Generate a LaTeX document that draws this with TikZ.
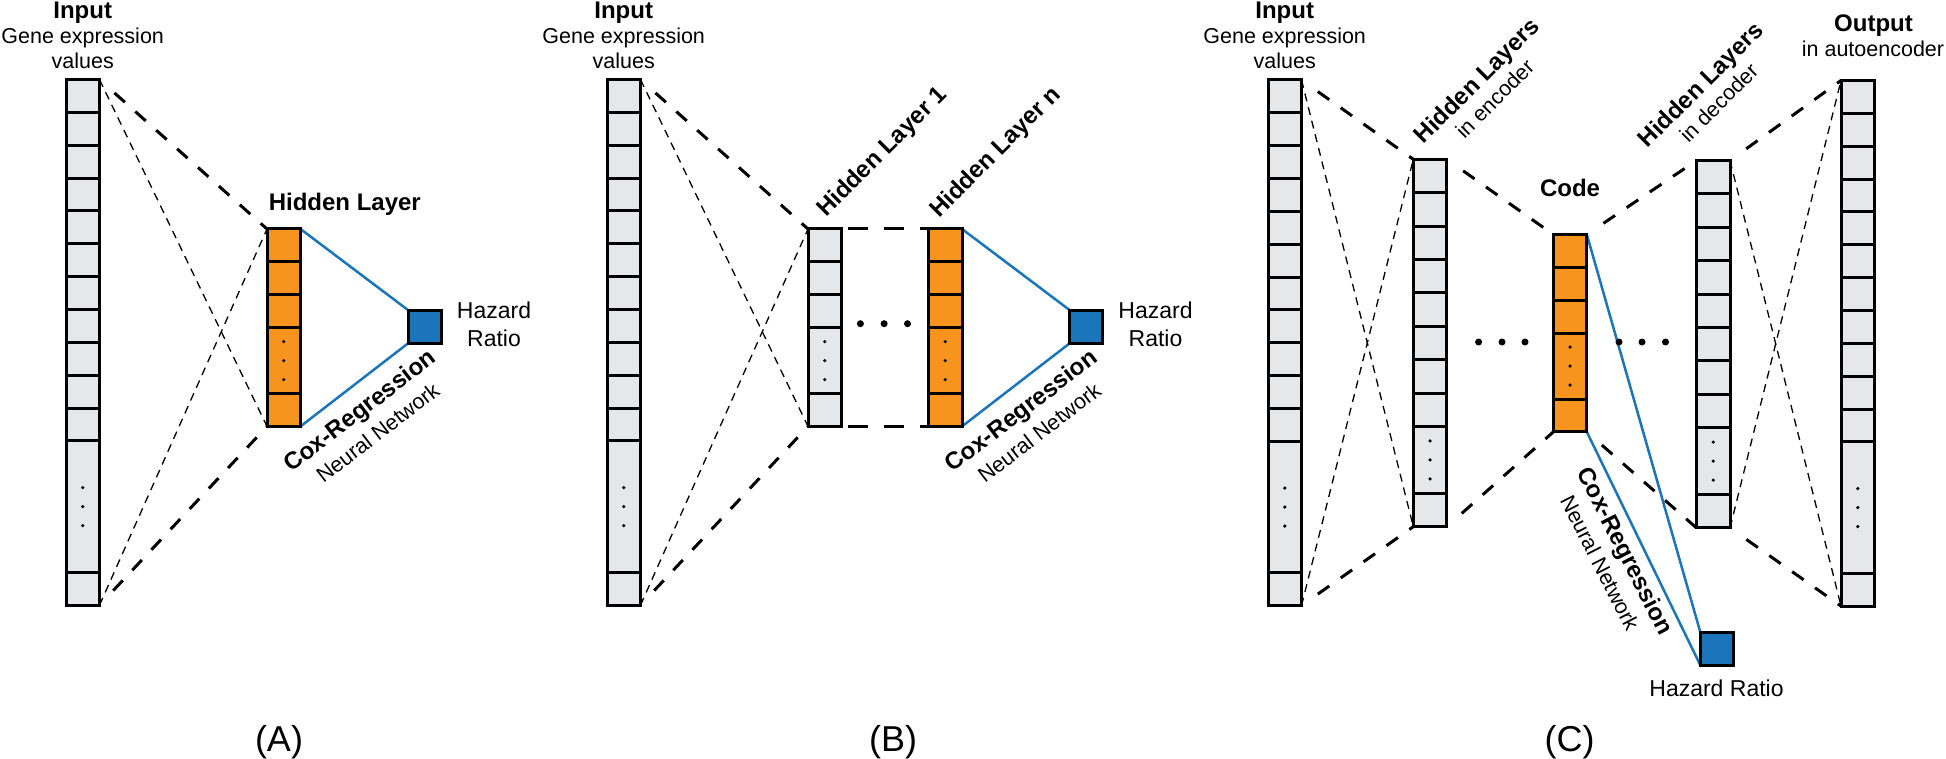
\documentclass[tikz,border=0pt]{standalone}
\usepackage{fontspec}
\setmainfont{Liberation Sans}
\usetikzlibrary{calc,backgrounds}
\definecolor{cellgray}{HTML}{E6E7E8}
\definecolor{cellorange}{HTML}{F7941D}
\definecolor{hrblue}{HTML}{1B75BB}
\tikzset{
 colbox/.style={draw=black, line width=3pt, minimum width=33.5pt, inner sep=0pt, outer sep=0pt},
 sepline/.style={line width=3pt, black},
 thickdash/.style={line width=3pt, dash pattern=on 14pt off 14pt, dash phase=14pt, shorten <=6pt},
 thindash/.style={line width=1.3pt, dash pattern=on 8pt off 6pt},
 hdash/.style={line width=3pt, dash pattern=on 20pt off 16pt, dash phase=29.5pt},
 blueline/.style={hrblue, line width=2.5pt},
 hazbox/.style={draw=black, line width=3pt, fill=hrblue, minimum size=33pt, inner sep=0pt, outer sep=0pt},
 ttl/.style={font=\fontsize{24}{28}\selectfont\bfseries, inner sep=0pt},
 sub/.style={font=\fontsize{21.5}{25}\selectfont, inner sep=0pt},
 haz/.style={font=\fontsize{23}{28}\selectfont, inner sep=0pt},
 panel/.style={font=\fontsize{36}{40}\selectfont, inner sep=0pt},
}
\newcommand\mkcol[8]{%
  \node[colbox, fill=#6, minimum height={(#4)*(#5)*1pt}, anchor=north west] (#1) at (#2,#3) {};
  \foreach \k in {#7}{\draw[sepline] ([yshift={-(\k)*(#4)*1pt}]#1.north west) -- ([yshift={-(\k)*(#4)*1pt}]#1.north east);}
  \foreach \c in {-19,0,19}{\fill ([yshift={-((#8)*(#4)+(\c))*1pt}]#1.north) circle[radius=1.8pt];}
}
\begin{document}
\begin{tikzpicture}[x=1pt,y=-1pt]
\useasboundingbox (0,0) rectangle (1946,759);
% ---------- columns ----------
% Panel A
\mkcol{inA}{66}{79.6}{32.85}{16}{cellgray}{1,2,3,4,5,6,7,8,9,10,11,15}{13}
\mkcol{hidA}{267}{229}{32.9}{6}{cellorange}{1,2,3,5}{4}
\node[hazbox] (hazA) at (424.7,326.7) {};
% Panel B
\mkcol{inB}{607}{79.6}{32.85}{16}{cellgray}{1,2,3,4,5,6,7,8,9,10,11,15}{13}
\mkcol{hOneB}{808}{229}{32.9}{6}{cellgray}{1,2,3,5}{4}
\mkcol{hNB}{928.5}{229}{32.9}{6}{cellorange}{1,2,3,5}{4}
\node[hazbox] (hazB) at (1086.3,326.7) {};
% Panel C
\mkcol{inC}{1268}{80}{32.85}{16}{cellgray}{1,2,3,4,5,6,7,8,9,10,11,15}{13}
\mkcol{enc}{1413.3}{159.3}{33.4}{11}{cellgray}{1,2,3,4,5,6,7,8,10}{9}
\mkcol{code}{1553.3}{234.5}{32.9}{6}{cellorange}{1,2,3,5}{4}
\mkcol{dec}{1696.5}{160.5}{33.4}{11}{cellgray}{1,2,3,4,5,6,7,8,10}{9}
\mkcol{outC}{1841}{80.5}{32.85}{16}{cellgray}{1,2,3,4,5,6,7,8,9,10,11,15}{13}
\node[hazbox] (hazC) at (1716.8,648.7) {};
% ---------- connectors (behind) ----------
\begin{scope}[on background layer]
\fill[white] (0,0) rectangle (1946,759);
% A
\draw[thickdash] (inA.north east) -- (hidA.north west);
\draw[thickdash] (inA.south east) -- (hidA.south west);
\draw[thindash] (inA.north east) -- (hidA.south west);
\draw[thindash] (inA.south east) -- (hidA.north west);
\draw[blueline] (hidA.north east) -- (hazA.north west);
\draw[blueline] (hidA.south east) -- (hazA.south west);
% B
\draw[thickdash] (inB.north east) -- (hOneB.north west);
\draw[thickdash] (inB.south east) -- (hOneB.south west);
\draw[thindash] (inB.north east) -- (hOneB.south west);
\draw[thindash] (inB.south east) -- (hOneB.north west);
\draw[hdash] (hOneB.north east) -- (hNB.north west);
\draw[hdash] (hOneB.south east) -- (hNB.south west);
\draw[blueline] (hNB.north east) -- (hazB.north west);
\draw[blueline] (hNB.south east) -- (hazB.south west);
% C
\draw[thickdash] (inC.north east) -- (enc.north west);
\draw[thickdash] (inC.south east) -- (enc.south west);
\draw[thindash] (inC.north east) -- (enc.south west);
\draw[thindash] (inC.south east) -- (enc.north west);
\draw[thickdash] (enc.north east) -- (code.north west);
\draw[thickdash] (enc.south east) -- (code.south west);
\draw[thickdash] (code.north east) -- (dec.north west);
\draw[thickdash] (code.south east) -- (dec.south west);
\draw[thickdash] (dec.north east) -- (outC.north west);
\draw[thickdash] (dec.south east) -- (outC.south west);
\draw[thindash] (dec.north east) -- (outC.south west);
\draw[thindash] (dec.south east) -- (outC.north west);
\draw[blueline] (code.north east) -- (hazC.north west);
\draw[blueline] (code.south east) -- (hazC.south west);
\end{scope}
% ---------- ellipsis dots ----------
\foreach \x in {860.4,884.1,907.5} \fill (\x,323.7) circle[radius=3.5pt];
\foreach \x in {1478.6,1502,1525,1619,1642,1665.5} \fill (\x,342) circle[radius=3.5pt];
% ---------- texts: Panel A ----------
\node[ttl, anchor=base] (tInA) at (82.7,19) {Input};
\node[sub, anchor=base] (sInA1) at (82.7,44) {Gene expression};
\node[sub, anchor=base] (sInA2) at (82.7,69) {values};
\node[ttl, anchor=base west] (tHidA) at (268.6,211) {Hidden Layer};
\node[haz, anchor=base] (hrA1) at (494,318) {Hazard};
\node[haz, anchor=base] (hrA2) at (494,346) {Ratio};
\node[ttl, rotate=37.5] (coxA) at (360.7,412) {Cox-Regression};
\node[sub, rotate=37.5] (nnA) at (377.7,432.6) {Neural Network};
\node[panel, anchor=base] (pA) at (279,751) {(A)};
% ---------- texts: Panel B ----------
\node[ttl, anchor=base] (tInB) at (623.7,19) {Input};
\node[sub, anchor=base] (sInB1) at (623.7,44) {Gene expression};
\node[sub, anchor=base] (sInB2) at (623.7,69) {values};
\node[ttl, anchor=base west, rotate=45] (tH1B) at (826,218) {Hidden Layer 1};
\node[ttl, anchor=base west, rotate=45] (tHnB) at (939,218.5) {Hidden Layer n};
\node[haz, anchor=base] (hrB1) at (1155.5,318) {Hazard};
\node[haz, anchor=base] (hrB2) at (1155.5,346) {Ratio};
\node[ttl, rotate=37.5] (coxB) at (1022.2,412) {Cox-Regression};
\node[sub, rotate=37.5] (nnB) at (1039.2,432.6) {Neural Network};
\node[panel, anchor=base] (pB) at (893,751) {(B)};
% ---------- texts: Panel C ----------
\node[ttl, anchor=base] (tInC) at (1284.7,19) {Input};
\node[sub, anchor=base] (sInC1) at (1284.7,44) {Gene expression};
\node[sub, anchor=base] (sInC2) at (1284.7,69) {values};
\node[ttl, anchor=base, rotate=45] (tEnc) at (1482.4,86.3) {Hidden Layers};
\node[sub, anchor=base, rotate=45] (sEnc) at (1500.1,104) {in encoder};
\node[ttl, anchor=base, rotate=45] (tDec) at (1706.4,90.3) {Hidden Layers};
\node[sub, anchor=base, rotate=45] (sDec) at (1724.1,108) {in decoder};
\node[ttl, anchor=base] (tCode) at (1570,196.7) {Code};
\node[ttl, anchor=base] (tOut) at (1873.5,32) {Output};
\node[sub, anchor=base] (sOut) at (1873,56.6) {in autoencoder};
\node[ttl, rotate=-63] (coxC) at (1624,551.7) {Cox-Regression};
\node[sub, rotate=-63] (nnC) at (1600,563) {Neural Network};
\node[haz, anchor=base] (hrC) at (1716.5,696) {Hazard Ratio};
\node[panel, anchor=base] (pC) at (1569.5,751) {(C)};
\end{tikzpicture}
\end{document}
